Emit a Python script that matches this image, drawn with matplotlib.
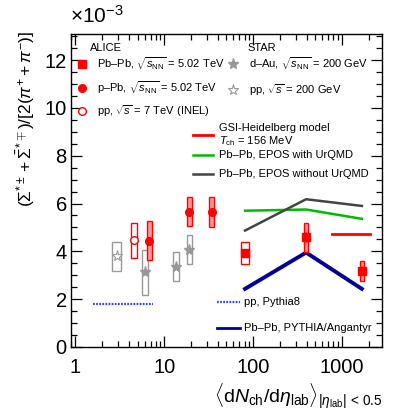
import matplotlib
matplotlib.use("Agg")
import matplotlib.pyplot as plt
from matplotlib.patches import Rectangle
from matplotlib.ticker import MultipleLocator, LogLocator, NullFormatter, FixedLocator, FixedFormatter

plt.rcParams['font.family'] = ['Liberation Sans', 'DejaVu Sans']
plt.rcParams['mathtext.fontset'] = 'custom'
plt.rcParams['mathtext.rm'] = 'Liberation Sans'
plt.rcParams['mathtext.it'] = 'Liberation Sans:italic'
plt.rcParams['mathtext.bf'] = 'Liberation Sans:bold'

# ALICE Pb-Pb 5.02 TeV
pbpb_x = [81, 394, 1671]
pbpb_y = [3.93, 4.59, 3.19]
pbpb_stat = [0.12, 0.2, 0.2]
pbpb_sys = [0.46, 0.6, 0.42]

# ALICE p-Pb 5.02 TeV
ppb_x = [6.78, 19.1, 34.2]
ppb_y = [4.45, 5.66, 5.66]
ppb_stat = [0.1, 0.1, 0.1]
ppb_sys = [0.81, 0.6, 0.63]

# ALICE pp 7 TeV (INEL)
pp7_x = [4.56]
pp7_y = [4.46]
pp7_sys = [0.72]

# STAR
star_pp_x = [2.91]
star_pp_y = [3.79]
star_pp_sys = [0.61]
star_dau_x = [6.06, 13.5, 19.1]
star_dau_y = [3.12, 3.36, 4.06]
star_dau_sys = [0.93, 0.62, 0.61]

# models
gsi_x = [770, 2070]
gsi_y = [4.71, 4.71]
epos_urqmd_y = [5.70, 5.75, 5.36]
epos_noqmd_y = [4.87, 6.18, 5.90]
angantyr_y = [2.43, 3.95, 2.43]
pythia8_x = [1.59, 7.52]
pythia8_y = [1.79, 1.79]

RED = '#ff0000'
PINK = '#ff9999'
GREY = '#999999'

fig = plt.figure(figsize=(3.94, 4.18), dpi=100)
ax = fig.add_axes([0.180, 0.170, 0.790, 0.749])
ax.set_xscale('log')
ax.set_xlim(0.89, 2830)
ax.set_ylim(0, 13.1)


def boxes(xs, ys, errs, hw, edge, face):
    # systematic boxes, hw = half width in decades
    for x, y, e in zip(xs, ys, errs):
        x0 = x * 10 ** (-hw)
        x1 = x * 10 ** hw
        ax.add_patch(Rectangle((x0, y - e), x1 - x0, 2 * e, facecolor=face,
                               edgecolor=edge, lw=1.0, zorder=3))


# model curves
ax.plot(pythia8_x, pythia8_y, color='#3344ff', lw=1.6, ls=(0, (0.8, 0.6)), zorder=2)
ax.plot(pbpb_x, epos_urqmd_y, color='#00bb00', lw=1.8, zorder=2)
ax.plot(pbpb_x, epos_noqmd_y, color='#444444', lw=1.8, zorder=2)
ax.plot(pbpb_x, angantyr_y, color='#000099', lw=2.8, zorder=2)
ax.plot(gsi_x, gsi_y, color=RED, lw=2.0, zorder=2)

# STAR
boxes(star_pp_x, star_pp_y, star_pp_sys, 0.049, GREY, 'white')
boxes(star_dau_x, star_dau_y, star_dau_sys, 0.031, GREY, 'white')
ax.plot(star_pp_x, star_pp_y, ls='none', marker='*', ms=8, mfc='white', mec=GREY, mew=0.8, zorder=5)
ax.plot(star_dau_x, star_dau_y, ls='none', marker='*', ms=8, mfc=GREY, mec=GREY, zorder=5)

# ALICE pp
boxes(pp7_x, pp7_y, pp7_sys, 0.034, RED, 'white')
ax.plot(pp7_x, pp7_y, ls='none', marker='o', ms=5.5, mfc='white', mec=RED, mew=1.0, zorder=5)

# ALICE p-Pb
boxes(ppb_x, ppb_y, ppb_sys, 0.026, RED, PINK)
ax.errorbar(ppb_x, ppb_y, yerr=ppb_stat, ls='none', marker='o', ms=5.5, color=RED,
            elinewidth=1.0, capsize=0, zorder=5)

# ALICE Pb-Pb
boxes(pbpb_x[:1], pbpb_y[:1], pbpb_sys[:1], 0.049, RED, 'white')
boxes(pbpb_x[1:], pbpb_y[1:], pbpb_sys[1:], 0.021, RED, PINK)
ax.errorbar(pbpb_x, pbpb_y, yerr=pbpb_stat, ls='none', marker='s', ms=5.5, color=RED,
            elinewidth=1.0, capsize=0, zorder=5)

# axes styling
ax.yaxis.set_major_locator(MultipleLocator(2))
ax.yaxis.set_minor_locator(MultipleLocator(0.5))
ax.xaxis.set_major_locator(FixedLocator([1, 10, 100, 1000]))
ax.xaxis.set_major_formatter(FixedFormatter(['1', '10', '100', '1000']))
ax.xaxis.set_minor_locator(LogLocator(base=10, subs=range(2, 10)))
ax.xaxis.set_minor_formatter(NullFormatter())
ax.tick_params(which='both', direction='in', top=True, right=True, labelsize=14.5, width=0.9)
ax.tick_params(which='major', length=8)
ax.tick_params(which='minor', length=4)
ax.tick_params(axis='x', pad=8)
ax.tick_params(axis='y', pad=3)
for s in ax.spines.values():
    s.set_linewidth(1.0)

ax.text(-0.003, 1.057, r'$\times10^{-3}$', transform=ax.transAxes, fontsize=15,
        ha='left', va='center')

ax.set_ylabel(r'$(\Sigma^{*\pm}+\bar{\Sigma}^{*\mp})/[2(\pi^{+}+\pi^{-})]$',
              fontsize=12.5, loc='top')
ax.yaxis.set_label_coords(-0.11, 1.01)
ax.set_xlabel(r'$\langle {\rm d}N_{\rm ch}/{\rm d}\eta_{\rm lab}\rangle_{|\eta_{\rm lab}|\,<\,0.5}$',
              fontsize=14, loc='right')
ax.xaxis.set_label_coords(1.0, -0.11)

# legend
tr = ax.transAxes
fs = 8
ax.text(0.061, 0.955, 'ALICE', transform=tr, fontsize=fs, va='center')
ax.text(0.566, 0.955, 'STAR', transform=tr, fontsize=fs, va='center')

ax.plot([0.035], [0.904], transform=tr, marker='s', ms=5.5, color=RED, ls='none')
ax.text(0.084, 0.904, r'Pb–Pb, $\sqrt{s_{\rm NN}}$ = 5.02 TeV', transform=tr, fontsize=fs, va='center')
ax.plot([0.035], [0.827], transform=tr, marker='o', ms=5.5, color=RED, ls='none')
ax.text(0.084, 0.827, r'p–Pb, $\sqrt{s_{\rm NN}}$ = 5.02 TeV', transform=tr, fontsize=fs, va='center')
ax.plot([0.035], [0.754], transform=tr, marker='o', ms=5.5, mfc='white', mec=RED, ls='none')
ax.text(0.084, 0.754, r'pp, $\sqrt{s}$ = 7 TeV (INEL)', transform=tr, fontsize=fs, va='center')

ax.plot([0.521], [0.904], transform=tr, marker='*', ms=8, color=GREY, ls='none')
ax.text(0.572, 0.904, r'd–Au, $\sqrt{s_{\rm NN}}$ = 200 GeV', transform=tr, fontsize=fs, va='center')
ax.plot([0.521], [0.821], transform=tr, marker='*', ms=8, mfc='white', mec=GREY, mew=0.8, ls='none')
ax.text(0.572, 0.821, r'pp, $\sqrt{s}$ = 200 GeV', transform=tr, fontsize=fs, va='center')

ax.plot([0.393, 0.457], [0.677, 0.677], transform=tr, color=RED, lw=2.0)
ax.text(0.476, 0.699, 'GSI-Heidelberg model', transform=tr, fontsize=fs, va='center')
ax.text(0.476, 0.657, r'$T_{\rm ch}$ = 156 MeV', transform=tr, fontsize=fs, va='center')
ax.plot([0.393, 0.457], [0.614, 0.614], transform=tr, color='#00bb00', lw=1.8)
ax.text(0.476, 0.614, 'Pb–Pb, EPOS with UrQMD', transform=tr, fontsize=fs, va='center')
ax.plot([0.393, 0.457], [0.553, 0.553], transform=tr, color='#444444', lw=1.8)
ax.text(0.476, 0.553, 'Pb–Pb, EPOS without UrQMD', transform=tr, fontsize=fs, va='center')

ax.plot([0.469, 0.543], [0.142, 0.142], transform=tr, color='#3344ff', lw=1.6, ls=(0, (0.8, 0.6)))
ax.text(0.556, 0.142, 'pp, Pythia8', transform=tr, fontsize=fs, va='center')
ax.plot([0.469, 0.543], [0.061, 0.061], transform=tr, color='#000099', lw=2.0)
ax.text(0.556, 0.061, 'Pb–Pb, PYTHIA/Angantyr', transform=tr, fontsize=fs, va='center')

fig.savefig('out.png', dpi=100)
